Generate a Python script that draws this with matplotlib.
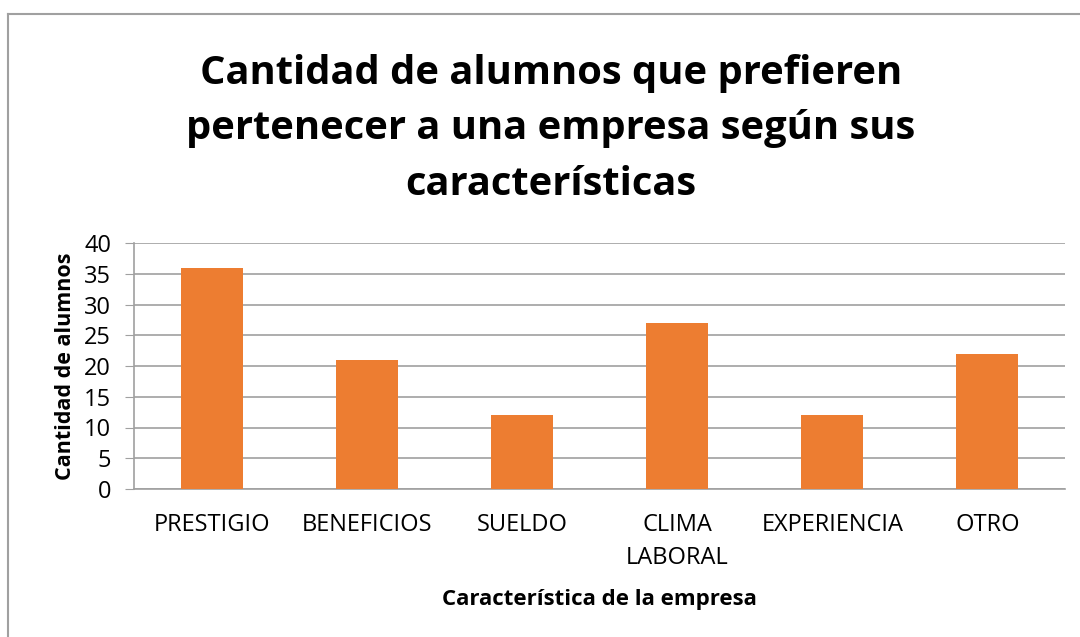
import matplotlib
matplotlib.use("Agg")
import matplotlib.pyplot as plt
from matplotlib.lines import Line2D

categories = ["PRESTIGIO", "BENEFICIOS", "SUELDO", "CLIMA\nLABORAL", "EXPERIENCIA", "OTRO"]
values = [36, 21, 12, 27, 12, 22]
yticks = [0, 5, 10, 15, 20, 25, 30, 35, 40]

W, H = 1080, 637
fig = plt.figure(figsize=(W / 100, H / 100), dpi=100)
plt.rcParams['font.family'] = ['Open Sans', 'DejaVu Sans']

# outer border (left and top visible)
fig.add_artist(Line2D([7.5 / W, 7.5 / W], [0, 1 - 13.5 / H], transform=fig.transFigure, color="#a0a0a0", lw=1.5))
fig.add_artist(Line2D([7.5 / W, 1], [1 - 13.5 / H, 1 - 13.5 / H], transform=fig.transFigure, color="#a0a0a0", lw=1.5))

left, right, top, bottom = 134, 1065, 243, 489
ax = fig.add_axes([left / W, 1 - bottom / H, (right - left) / W, (bottom - top) / H])

x = range(len(categories))
ax.bar(x, values, width=0.4, color="#ED7D31", zorder=3)
ax.set_xlim(-0.5, len(categories) - 0.5)
ax.set_ylim(0, 40)
ax.set_yticks(yticks)
ax.set_xticks(list(x))
ax.set_xticklabels(categories, fontsize=17, linespacing=1.52)
ax.tick_params(axis='x', length=0, pad=17)
ax.tick_params(axis='y', length=6.5, color="#a0a0a0", labelsize=17, pad=10)
ax.grid(axis='y', color="#a0a0a0", lw=1.2, zorder=0)
for s in ["top", "right"]:
    ax.spines[s].set_visible(False)
ax.spines["left"].set_color("#a0a0a0")
ax.spines["bottom"].set_color("#a0a0a0")
ax.spines["left"].set_linewidth(1.2)
ax.spines["bottom"].set_linewidth(1.2)

ax.set_ylabel("Cantidad de alumnos", fontsize=15.5, fontweight="bold", labelpad=6)
ax.set_xlabel("Característica de la empresa", fontsize=16, fontweight="bold", labelpad=14)

fig.text(551 / W, 1 - 129 / H, "Cantidad de alumnos que prefieren\npertenecer a una empresa según sus\ncaracterísticas",
         ha="center", va="center", fontsize=28.7, fontweight="bold", linespacing=1.56)

fig.savefig("out.png", dpi=100, facecolor="white")
